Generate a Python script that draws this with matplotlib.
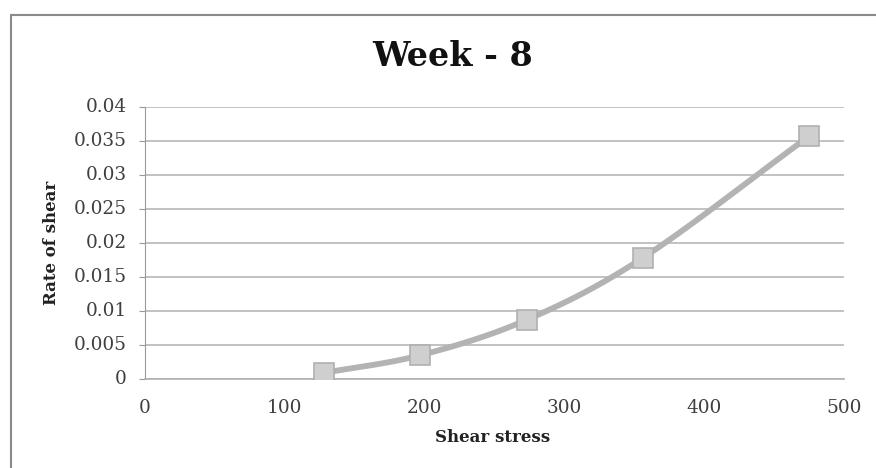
import numpy as np
import matplotlib
matplotlib.use("Agg")
import matplotlib.pyplot as plt
from matplotlib.patches import Rectangle

shear_stress = [128, 197, 273, 356, 475]
rate_of_shear = [0.0009, 0.0035, 0.0087, 0.0178, 0.0357]
x_ticks = [0, 100, 200, 300, 400, 500]
y_ticks = [0, 0.005, 0.01, 0.015, 0.02, 0.025, 0.03, 0.035, 0.04]
y_labels = ["0", "0.005", "0.01", "0.015", "0.02", "0.025", "0.03", "0.035", "0.04"]


def smooth(xs, ys, steps=30):
    # catmull-rom curve through the points, like a spreadsheet smoothed line
    px = np.concatenate([[2 * xs[0] - xs[1]], xs, [2 * xs[-1] - xs[-2]]])
    py = np.concatenate([[2 * ys[0] - ys[1]], ys, [2 * ys[-1] - ys[-2]]])
    outx, outy = [], []
    t = np.linspace(0, 1, steps)
    for i in range(1, len(px) - 2):
        for p, out in ((px, outx), (py, outy)):
            p0, p1, p2, p3 = p[i - 1], p[i], p[i + 1], p[i + 2]
            out.extend(0.5 * (2 * p1 + (-p0 + p2) * t
                              + (2 * p0 - 5 * p1 + 4 * p2 - p3) * t ** 2
                              + (-p0 + 3 * p1 - 3 * p2 + p3) * t ** 3))
    return outx, outy


fig = plt.figure(figsize=(8.76, 4.68), dpi=100)
fig.patches.append(Rectangle((11 / 876, -0.01), 1.2, 1 - 15 / 468 + 0.01,
                             transform=fig.transFigure, fill=False,
                             edgecolor="#8a8a8a", linewidth=1.5))

ax = fig.add_axes([145 / 876, 89 / 468, 699 / 876, 272 / 468])
sx, sy = smooth(np.array(shear_stress, float), np.array(rate_of_shear, float))
ax.plot(sx, sy, color="#b3b3b3", linewidth=4.2, solid_capstyle="round", zorder=3)
ax.plot(shear_stress, rate_of_shear, linestyle="none", marker="s", markersize=14,
        markerfacecolor="#cfcfcf", markeredgecolor="#b0b0b0", markeredgewidth=1.2, zorder=4)

ax.set_xlim(0, 500)
ax.set_ylim(0, 0.04)
ax.set_xticks(x_ticks)
ax.set_yticks(y_ticks)
ax.set_yticklabels(y_labels)
ax.grid(axis="y", color="#b8b8b8", linewidth=1.2)
ax.set_axisbelow(True)
for s in ["top", "right"]:
    ax.spines[s].set_visible(False)
ax.spines["left"].set_color("#9a9a9a")
ax.spines["bottom"].set_color("#b0b0b0")
ax.spines["bottom"].set_linewidth(1.2)
ax.tick_params(axis="y", length=4, color="#9a9a9a", pad=9)
ax.tick_params(axis="x", length=0, pad=21)
for lab in ax.get_xticklabels() + ax.get_yticklabels():
    lab.set_fontfamily("DejaVu Serif")
    lab.set_fontsize(13.3)
    lab.set_color("#3f3f3f")
for lab in ax.get_xticklabels():
    lab.set_verticalalignment("center")
for lab in ax.get_yticklabels():
    lab.set_verticalalignment("center")

ax.set_xlabel("Shear stress", family="DejaVu Serif", fontweight="bold",
              fontsize=12, color="#222222")
ax.xaxis.set_label_coords(0.497, -(438 - 379) / 272, transform=ax.transAxes)
ax.xaxis.label.set_verticalalignment("center")
ax.set_ylabel("Rate of shear", family="DejaVu Serif", fontweight="bold",
              fontsize=12, color="#222222")
ax.yaxis.set_label_coords(-(145 - 52) / 699, 0.5, transform=ax.transAxes)
ax.yaxis.label.set_verticalalignment("center")
fig.text(453 / 876, 1 - 56 / 468, "Week - 8", family="DejaVu Serif", fontweight="bold",
         fontsize=24, ha="center", va="center", color="#111111")

fig.savefig("out.png", dpi=100)
